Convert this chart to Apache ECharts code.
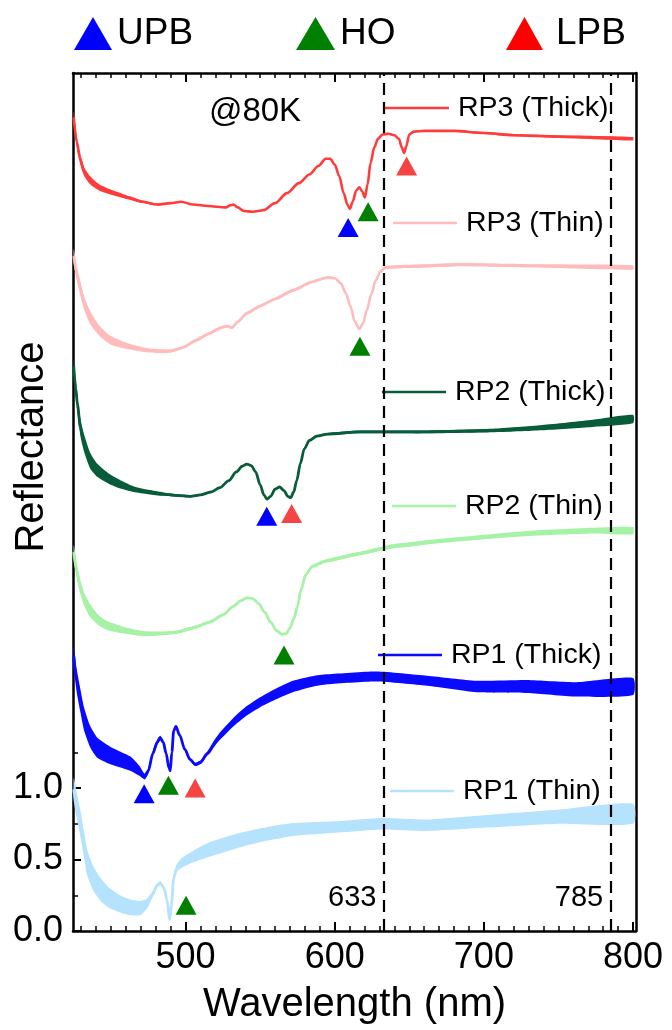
<!DOCTYPE html>
<html>
<head>
<meta charset="utf-8">
<script src="https://cdn.jsdelivr.net/npm/echarts@6/dist/echarts.min.js"></script>
<style>
  html, body { margin: 0; padding: 0; background: #fff; }
  #chart { width: 672px; height: 1030px; }
</style>
</head>
<body>
<div id="chart"></div>
<script>
// Low-temperature (80 K) reflectance spectra, each sample offset vertically.
// Points are [wavelength (nm), reflectance, noise half-width].
const rp3Thick = [
  [425, 5.69, 0.04], [427, 5.52, 0.04], [429.3, 5.40, 0.035], [432, 5.31, 0.03],
  [436, 5.25, 0.028], [442, 5.20, 0.022], [449, 5.17, 0.018], [461, 5.13, 0.012],
  [471, 5.10, 0.008], [481, 5.08, 0.006], [490, 5.09, 0], [497, 5.10, 0], [505, 5.08, 0],
  [515, 5.07, 0], [527, 5.06, 0], [530, 5.075, 0], [532, 5.08, 0], [535, 5.06, 0],
  [539, 5.035, 0], [545, 5.03, 0], [552, 5.04, 0], [560, 5.09, 0], [568, 5.16, 0],
  [576, 5.23, 0], [583, 5.29, 0], [589, 5.35, 0], [594, 5.40, 0], [597, 5.40, 0],
  [600, 5.36, 0], [603, 5.28, 0], [606, 5.16, 0], [608.5, 5.08, 0], [610.2, 5.05, 0],
  [612, 5.10, 0], [614.5, 5.18, 0], [616.5, 5.20, 0], [618.5, 5.17, 0], [620.2, 5.13, 0],
  [622, 5.22, 0], [624, 5.37, 0], [626.5, 5.48, 0], [629, 5.54, 0], [632, 5.57, 0],
  [636, 5.575, 0], [640, 5.565, 0], [643, 5.54, 0], [645, 5.48, 0], [646.5, 5.44, 0],
  [648, 5.49, 0], [650, 5.57, 0], [653, 5.59, 0.004], [660, 5.595, 0.005],
  [680, 5.595, 0.006], [700, 5.58, 0.007], [720, 5.565, 0.008], [750, 5.555, 0.008],
  [800, 5.54, 0.012]
];
const rp3Thin = [
  [425, 4.72, 0.05], [427, 4.60, 0.05], [429.3, 4.50, 0.05], [432, 4.39, 0.045],
  [436, 4.29, 0.045], [442, 4.20, 0.035], [450, 4.13, 0.03], [461, 4.09, 0.02],
  [475, 4.06, 0.015], [489, 4.055, 0.012], [498, 4.08, 0.01], [507, 4.13, 0.01],
  [516, 4.18, 0.01], [524, 4.22, 0.01], [528, 4.23, 0.01], [531, 4.22, 0.01],
  [535, 4.26, 0.01], [541, 4.32, 0.01], [550, 4.37, 0.01], [560, 4.42, 0.01],
  [572, 4.48, 0.01], [585, 4.54, 0.008], [595, 4.57, 0.008], [600, 4.565, 0.006],
  [604, 4.53, 0.004], [607.5, 4.46, 0], [610.5, 4.37, 0], [613.5, 4.26, 0], [616.5, 4.21, 0],
  [619, 4.25, 0], [621.5, 4.34, 0], [624.5, 4.45, 0], [627.5, 4.55, 0], [630.5, 4.61, 0.005],
  [634, 4.64, 0.01], [660, 4.65, 0.012], [684, 4.66, 0.012], [740, 4.65, 0.012],
  [800, 4.64, 0.015]
];
const rp2Thick = [
  [425, 3.95, 0.05], [426.3, 3.80, 0.06], [427.5, 3.68, 0.06], [429.5, 3.52, 0.06],
  [432, 3.41, 0.06], [436, 3.29, 0.055], [441, 3.22, 0.045], [449, 3.16, 0.035],
  [457, 3.12, 0.028], [465, 3.09, 0.02], [475, 3.07, 0.015], [485, 3.055, 0.012],
  [495, 3.045, 0.01], [503, 3.04, 0.008], [510, 3.05, 0.006], [517, 3.07, 0.005],
  [523, 3.10, 0], [529, 3.15, 0], [534, 3.21, 0], [538, 3.25, 0], [541, 3.265, 0],
  [544, 3.255, 0], [547, 3.21, 0], [550, 3.12, 0], [552.5, 3.05, 0], [554.5, 3.02, 0],
  [557, 3.04, 0], [560, 3.09, 0], [563, 3.105, 0], [566, 3.08, 0], [568.5, 3.04, 0],
  [570.5, 3.03, 0], [572.5, 3.07, 0], [574.5, 3.15, 0], [577, 3.27, 0], [579.5, 3.37, 0],
  [583, 3.43, 0.005], [588, 3.46, 0.007], [595, 3.475, 0.008], [617, 3.49, 0.01],
  [660, 3.49, 0.01], [706, 3.50, 0.012], [739, 3.52, 0.018], [773, 3.55, 0.025],
  [800, 3.58, 0.03]
];
const rp2Thin = [
  [425, 2.65, 0.05], [427, 2.52, 0.05], [429.3, 2.41, 0.05], [432, 2.32, 0.045],
  [436, 2.24, 0.045], [442, 2.17, 0.035], [449, 2.13, 0.03], [460, 2.10, 0.022],
  [471, 2.08, 0.018], [483, 2.08, 0.014], [494, 2.09, 0.012], [505, 2.12, 0.011],
  [516, 2.16, 0.01], [525, 2.21, 0.008], [532, 2.27, 0.008], [537, 2.31, 0.005],
  [541, 2.33, 0], [545, 2.325, 0], [549, 2.29, 0], [553, 2.23, 0], [557, 2.16, 0],
  [561, 2.10, 0], [564.5, 2.075, 0], [567.5, 2.08, 0], [570, 2.12, 0], [572.5, 2.18, 0],
  [575, 2.27, 0], [577.5, 2.39, 0], [580.5, 2.49, 0.005], [585, 2.55, 0.01],
  [595, 2.59, 0.012], [617, 2.64, 0.012], [639, 2.69, 0.015], [684, 2.74, 0.015],
  [729, 2.78, 0.018], [773, 2.80, 0.02], [800, 2.80, 0.025]
];
const rp1Thick = [
  [425, 1.92, 0.07], [427, 1.75, 0.08], [429.3, 1.62, 0.08], [432, 1.48, 0.08],
  [436, 1.36, 0.075], [441, 1.28, 0.07], [451, 1.22, 0.06], [463, 1.17, 0.05],
  [469, 1.12, 0.035], [472.5, 1.08, 0.02], [475, 1.12, 0.02], [478, 1.24, 0.02],
  [481, 1.32, 0.02], [483, 1.35, 0.015], [485, 1.32, 0.01], [487, 1.24, 0.008],
  [488.8, 1.14, 0.005], [489.7, 1.12, 0], [490.8, 1.25, 0], [492, 1.40, 0.005],
  [493.5, 1.43, 0.006], [496, 1.37, 0.008], [499.5, 1.27, 0.01], [503, 1.20, 0.01],
  [506.5, 1.165, 0.012], [510, 1.18, 0.012], [514.5, 1.24, 0.015], [522, 1.35, 0.025],
  [532, 1.46, 0.03], [541, 1.54, 0.033], [550, 1.60, 0.035], [561, 1.66, 0.038],
  [572, 1.71, 0.04], [585, 1.745, 0.037], [595, 1.76, 0.035], [628, 1.78, 0.035],
  [662, 1.75, 0.035], [695, 1.71, 0.04], [729, 1.71, 0.045], [762, 1.69, 0.05],
  [800, 1.71, 0.06]
];
const rp1Thin = [
  [425, 0.99, 0.08], [427, 0.88, 0.09], [429.3, 0.76, 0.09], [432, 0.60, 0.09],
  [434, 0.48, 0.09], [438, 0.37, 0.085], [443, 0.29, 0.08], [449, 0.23, 0.07],
  [456, 0.19, 0.06], [463, 0.165, 0.055], [469.5, 0.16, 0.05], [474, 0.19, 0.035],
  [478, 0.26, 0.02], [481, 0.32, 0.015], [483, 0.335, 0.015], [485.5, 0.30, 0.01],
  [487.5, 0.22, 0.005], [489.3, 0.08, 0], [490.5, 0.18, 0], [492, 0.37, 0.01],
  [494, 0.44, 0.025], [498, 0.48, 0.035], [505, 0.52, 0.04], [516, 0.57, 0.05],
  [538, 0.64, 0.05], [555, 0.68, 0.048], [572, 0.71, 0.045], [605, 0.73, 0.04],
  [632, 0.75, 0.04], [662, 0.74, 0.04], [706, 0.77, 0.045], [751, 0.80, 0.05],
  [800, 0.82, 0.07]
];

// Polariton branch positions marked on the spectra: [wavelength, reflectance]
const upbMarks = [[609.0, 4.92], [554.4, 2.90], [472.2, 0.96]];
const hoMarks = [[622.4, 5.03], [616.9, 4.09], [566.0, 1.93], [488.5, 1.02], [500.3, 0.18]];
const lpbMarks = [[648.2, 5.35], [571.1, 2.92], [506.4, 1.00]];

// Excitation laser lines (nm)
const laserLines = [633, 785];

// Axis ticks
const xMajorTicks = [500, 600, 700, 800];
const xMinorStep = 10;
const yMajorTicks = [0, 0.5, 1.0];
const yMinorTicks = [0.25, 0.75, 1.25];

const X_MIN = 424.5, X_MAX = 802, Y_MIN = 0, Y_MAX = 6;
const FONT = '"Liberation Sans", Arial, Helvetica, sans-serif';

const xMinorTicks = [];
for (let w = 430; w <= 800; w += xMinorStep) {
  if (xMajorTicks.indexOf(w) < 0) xMinorTicks.push(w);
}

const spectra = [
  { name: 'RP3 (Thick)', pts: rp3Thick, color: '#ff3b3b', width: 2.6, legend: [385, 108] },
  { name: 'RP3 (Thin)',  pts: rp3Thin,  color: '#ffbcbc', width: 2.6, legend: [393, 223] },
  { name: 'RP2 (Thick)', pts: rp2Thick, color: '#085c3a', width: 2.8, legend: [382, 392] },
  { name: 'RP2 (Thin)',  pts: rp2Thin,  color: '#a6f2a6', width: 2.8, legend: [392, 506] },
  { name: 'RP1 (Thick)', pts: rp1Thick, color: '#0a0aff', width: 2.8, legend: [378, 655] },
  { name: 'RP1 (Thin)',  pts: rp1Thin,  color: '#b5e2fc', width: 2.8, legend: [390, 791] }
];

const series = [];
spectra.forEach(function (s) {
  // noise band around the spectrum
  series.push({
    type: 'custom',
    coordinateSystem: 'cartesian2d',
    silent: true,
    z: 1,
    data: [[s.pts[0][0], s.pts[0][1]]],
    renderItem: function (params, api) {
      const upper = s.pts.map(function (p) { return api.coord([p[0], p[1] + p[2]]); });
      const lower = s.pts.slice().reverse().map(function (p) { return api.coord([p[0], p[1] - p[2]]); });
      return {
        type: 'polygon',
        shape: { points: upper.concat(lower), smooth: 0.2 },
        style: { fill: s.color }
      };
    }
  });
  series.push({
    name: s.name,
    type: 'line',
    z: 2,
    symbol: 'none',
    smooth: 0.3,
    smoothMonotone: 'x',
    silent: true,
    data: s.pts.map(function (p) { return [p[0], p[1]]; }),
    lineStyle: { color: s.color, width: s.width },
    itemStyle: { color: s.color }
  });
});

const markerSize = [21, 19];
series.push(
  { name: 'UPB', type: 'scatter', symbol: 'triangle', symbolSize: markerSize, z: 5, silent: true,
    data: upbMarks, itemStyle: { color: '#0000ff', opacity: 1 } },
  { name: 'HO', type: 'scatter', symbol: 'triangle', symbolSize: markerSize, z: 5, silent: true,
    data: hoMarks, itemStyle: { color: '#007f00', opacity: 1 } },
  { name: 'LPB', type: 'scatter', symbol: 'triangle', symbolSize: markerSize, z: 5, silent: true,
    data: lpbMarks, itemStyle: { color: '#f44444', opacity: 1 } }
);

// Laser line markers with their wavelength labels
series.push({
  type: 'scatter',
  z: 6,
  silent: true,
  symbolSize: 1,
  itemStyle: { color: 'rgba(0,0,0,0)', opacity: 1 },
  data: laserLines.map(function (w) { return [w, 0.23]; }),
  label: {
    show: true,
    position: 'left',
    distance: 7,
    opacity: 1,
    formatter: function (p) { return String(p.value[0]); },
    fontSize: 29,
    fontFamily: FONT,
    color: '#000'
  },
  markLine: {
    silent: true,
    symbol: ['none', 'none'],
    label: { show: false },
    lineStyle: { color: '#000', width: 2.2, type: [12, 7], opacity: 1 },
    data: laserLines.map(function (w) { return { xAxis: w }; })
  }
});

const axisLineStyle = { color: '#000', width: 2.5 };
const tickStyle = { color: '#000', width: 2 };

function xAxisDef(position, major, withLabels) {
  const ax = {
    type: 'value', min: X_MIN, max: X_MAX, position: position,
    splitLine: { show: false },
    axisLine: { show: major, onZero: false, lineStyle: axisLineStyle },
    axisTick: { show: true, inside: true, length: major ? 9 : 5,
      customValues: major ? xMajorTicks : xMinorTicks,
      lineStyle: major ? tickStyle : { color: '#000', width: 1.5 } },
    axisLabel: { show: false }
  };
  if (withLabels) {
    ax.axisLabel = { show: true, customValues: xMajorTicks, fontSize: 36, color: '#000',
      fontFamily: FONT, margin: 9 };
    ax.name = 'Wavelength (nm)';
    ax.nameLocation = 'middle';
    ax.nameGap = 54;
    ax.nameTextStyle = { fontSize: 40, color: '#000', fontFamily: FONT };
  }
  return ax;
}

function yAxisDef(position, kind) {
  const ax = {
    type: 'value', min: Y_MIN, max: Y_MAX, position: position,
    splitLine: { show: false },
    axisLine: { show: kind !== 'minor', onZero: false, lineStyle: axisLineStyle },
    axisTick: { show: false },
    axisLabel: { show: false }
  };
  if (kind === 'major') {
    ax.axisTick = { show: true, inside: true, length: 8, customValues: yMajorTicks, lineStyle: tickStyle };
    ax.axisLabel = { show: true, customValues: yMajorTicks, fontSize: 36, color: '#000',
      fontFamily: FONT, margin: 10, formatter: function (v) { return v.toFixed(1); } };
  } else if (kind === 'minor') {
    ax.axisTick = { show: true, inside: true, length: 5, customValues: yMinorTicks,
      lineStyle: { color: '#000', width: 1.5 } };
  }
  return ax;
}

const legendText = { fontSize: 28.5, color: '#000', fontFamily: FONT, lineHeight: 30, padding: [0, 0, 0, 4] };
const legends = spectra.map(function (s) {
  return {
    data: [s.name], left: s.legend[0], top: s.legend[1] - 15, padding: 0,
    icon: 'rect', itemWidth: 64, itemHeight: 2.6, selectedMode: false,
    textStyle: legendText
  };
});
[['UPB', 74, 38, 5, '#0000ff'], ['HO', 296, 39, 5, '#008000'], ['LPB', 506, 37, 13, '#ff0000']]
  .forEach(function (b) {
    legends.push({
      data: [b[0]], left: b[1], top: 10, padding: 0, icon: 'triangle',
      itemWidth: b[2], itemHeight: 33, selectedMode: false,
      itemStyle: { color: b[4] },
      textStyle: { fontSize: 37, color: '#000', fontFamily: FONT, lineHeight: 37,
        padding: [10, 0, 0, b[3] - 5] }
    });
  });

const chart = echarts.init(document.getElementById('chart'), null, { renderer: 'canvas' });
chart.setOption({
  animation: false,
  backgroundColor: '#fff',
  grid: { left: 73, right: 36, top: 73, bottom: 98, containLabel: false },
  xAxis: [
    xAxisDef('bottom', true, true),
    xAxisDef('bottom', false, false),
    xAxisDef('top', true, false),
    xAxisDef('top', false, false)
  ],
  yAxis: [
    yAxisDef('left', 'major'),
    yAxisDef('left', 'minor'),
    yAxisDef('right', 'frame')
  ],
  legend: legends,
  graphic: [
    { type: 'text', x: 32, y: 447, rotation: Math.PI / 2,
      style: { text: 'Reflectance', font: '40px ' + FONT, fill: '#000',
        textAlign: 'center', textVerticalAlign: 'middle' } },
    { type: 'text', x: 255, y: 112,
      style: { text: '@80K', font: '33px ' + FONT, fill: '#000',
        textAlign: 'center', textVerticalAlign: 'middle' } }
  ],
  series: series
});
</script>
</body>
</html>
